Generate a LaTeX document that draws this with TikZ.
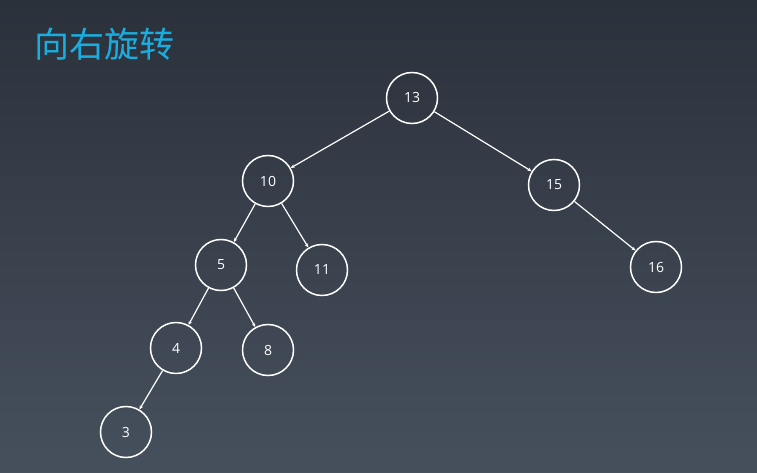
\documentclass[tikz,border=0pt]{standalone}
\usepackage{fontspec}
\setmainfont{Open Sans}
\newfontfamily\cjk{Noto Sans CJK SC}
\usetikzlibrary{arrows.meta}
\definecolor{bgtop}{HTML}{2B313B}
\definecolor{bgbottom}{HTML}{46505D}
\definecolor{titleblue}{HTML}{1AAEE0}

\begin{document}
\begin{tikzpicture}
  [
    x=1pt,y=-1pt,
    >={Stealth[length=4pt,width=3.5pt]},
    key/.style={circle,draw=white,line width=1.5pt,minimum size=51pt,inner sep=0pt,text=white,font=\fontsize{14}{16}\selectfont},
    edge/.style={->,draw=white,line width=1.2pt},
  ]
  \shade [top color=bgtop,bottom color=bgbottom] (0,0) rectangle (757,473);
  \useasboundingbox (0,0) rectangle (757,473);
  \node (title) [anchor=west,inner sep=0pt,text=titleblue,font=\cjk\fontsize{35}{40}\selectfont] at (34,44) {向右旋转};

  \node (n13) [key] at (412,98) {13};
  \node (n10) [key] at (268,181) {10};
  \node (n15) [key] at (554,185) {15};
  \node (n5)  [key] at (221,265) {5};
  \node (n11) [key] at (322,270) {11};
  \node (n16) [key] at (656,267) {16};
  \node (n4)  [key] at (176,348) {4};
  \node (n8)  [key] at (268,350) {8};
  \node (n3)  [key] at (126,432) {3};

  \draw [edge] (n13) -- (n10);
  \draw [edge] (n13) -- (n15);
  \draw [edge] (n10) -- (n5);
  \draw [edge] (n10) -- (n11);
  \draw [edge] (n15) -- (n16);
  \draw [edge] (n5) -- (n4);
  \draw [edge] (n5) -- (n8);
  \draw [edge] (n4) -- (n3);
\end{tikzpicture}
\end{document}
